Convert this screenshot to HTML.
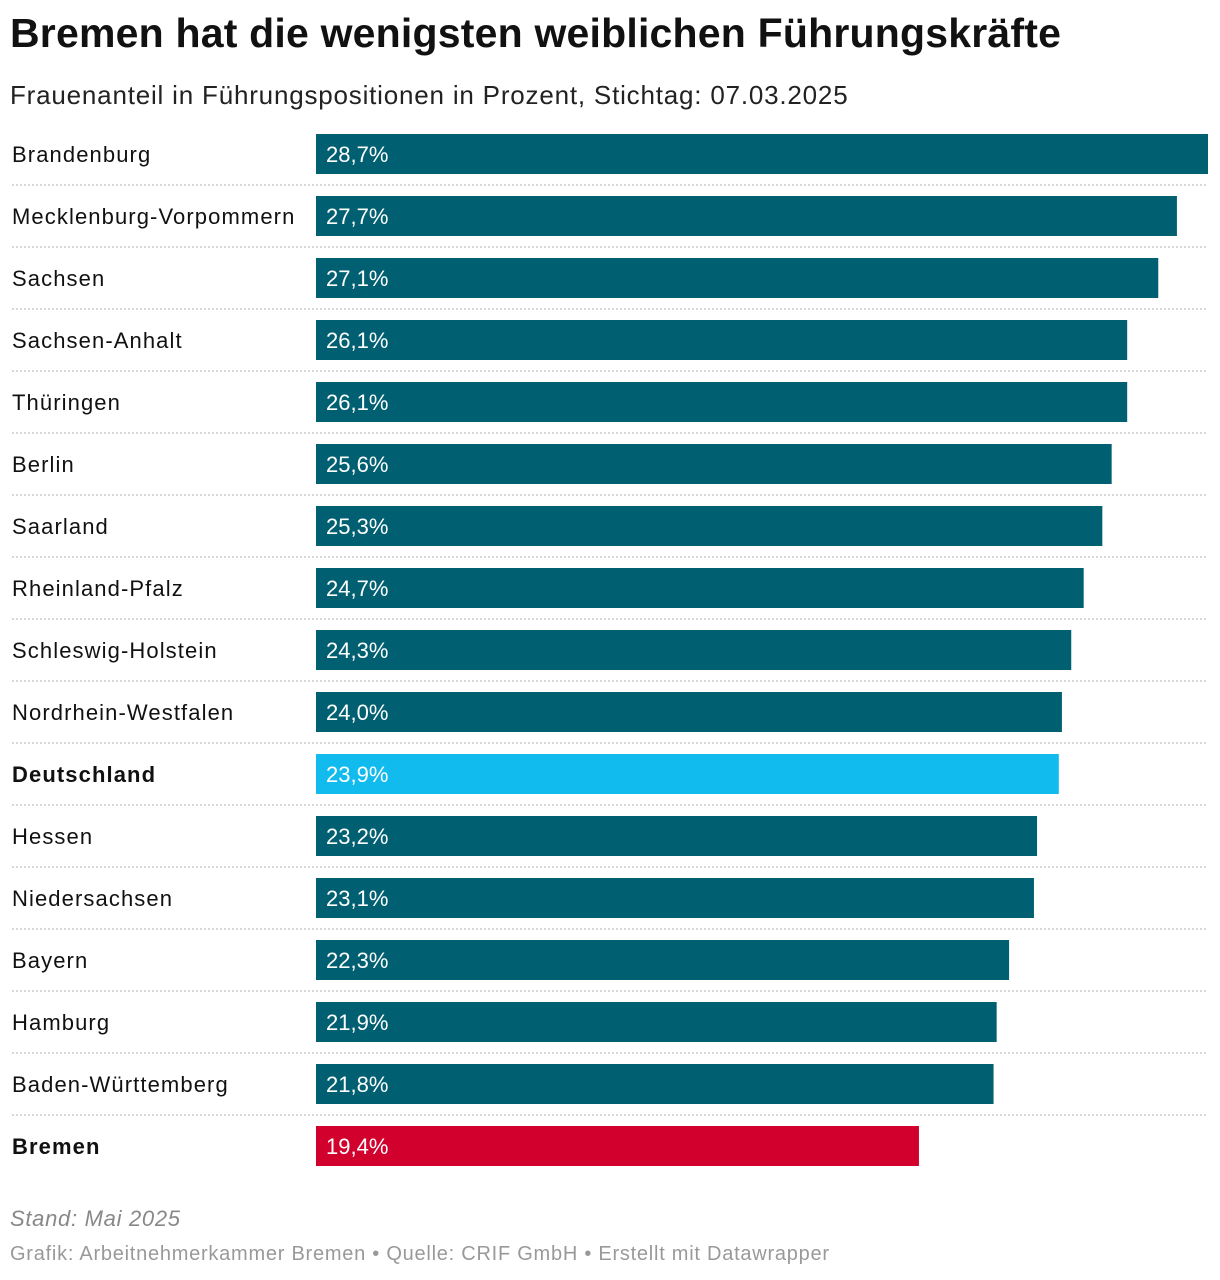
<!DOCTYPE html>
<html><head><meta charset="utf-8">
<style>
body{margin:0;width:1220px;height:1280px;background:#fff;font-family:"Liberation Sans",sans-serif;position:relative;overflow:hidden}
#title{position:absolute;left:10px;top:10px;font-size:41px;font-weight:bold;color:#111;letter-spacing:0.2px}
#sub{position:absolute;left:10px;top:80px;font-size:26px;color:#222;letter-spacing:0.8px}
#chart{position:absolute;left:0;top:0}
#stand{position:absolute;left:10px;top:1206px;font-size:22px;font-style:italic;color:#888;letter-spacing:0.7px}
#src{position:absolute;left:10px;top:1243px;font-size:20px;color:#999;letter-spacing:0.75px}
</style></head><body>
<div id="title">Bremen hat die wenigsten weiblichen Führungskräfte</div>
<div id="sub">Frauenanteil in Führungspositionen in Prozent, Stichtag: 07.03.2025</div>
<svg id="chart" width="1220" height="1280"></svg>
<div id="stand">Stand: Mai 2025</div>
<div id="src">Grafik: Arbeitnehmerkammer Bremen • Quelle: CRIF GmbH • Erstellt mit Datawrapper</div>
<script>
const categories=["Brandenburg","Mecklenburg-Vorpommern","Sachsen","Sachsen-Anhalt","Thüringen","Berlin","Saarland","Rheinland-Pfalz","Schleswig-Holstein","Nordrhein-Westfalen","Deutschland","Hessen","Niedersachsen","Bayern","Hamburg","Baden-Württemberg","Bremen"];
const values=[28.7,27.7,27.1,26.1,26.1,25.6,25.3,24.7,24.3,24.0,23.9,23.2,23.1,22.3,21.9,21.8,19.4];
const labels=["28,7%","27,7%","27,1%","26,1%","26,1%","25,6%","25,3%","24,7%","24,3%","24,0%","23,9%","23,2%","23,1%","22,3%","21,9%","21,8%","19,4%"];
const highlight=["Deutschland","Bremen"];
const svg=document.getElementById('chart');
const NS="http://www.w3.org/2000/svg";
const x0=316,x1=1208,maxV=Math.max(...values);
const xs=v=>x0+(v/maxV)*(x1-x0);
const ys=i=>134+i*62;
function mk(t,a){const e=document.createElementNS(NS,t);for(const k in a)e.setAttribute(k,a[k]);svg.appendChild(e);return e;}
categories.forEach((c,i)=>{
  const y=ys(i);
  const col=c==="Deutschland"?"#12bbee":c==="Bremen"?"#d2002d":"#005f70";
  const r=mk('rect',{x:x0,y:y,width:xs(values[i])-x0,height:40,fill:col});
  
  
  const t=mk('text',{x:326,y:y+28,'font-size':22,fill:'#fff'});
  t.textContent=labels[i];
  
  
  const l=mk('text',{x:12,y:y+28,'font-size':22,fill:'#111','letter-spacing':'1.1','font-weight':highlight.includes(c)?'bold':'normal'});
  l.textContent=c;
  
  
  if(i<categories.length-1){
    const s=mk('line',{x1:12,x2:1208,y1:y+51,y2:y+51,stroke:'#ccc','stroke-width':1.5,'stroke-dasharray':'2,2'});
    
    
  }
});
</script>
</body></html>
